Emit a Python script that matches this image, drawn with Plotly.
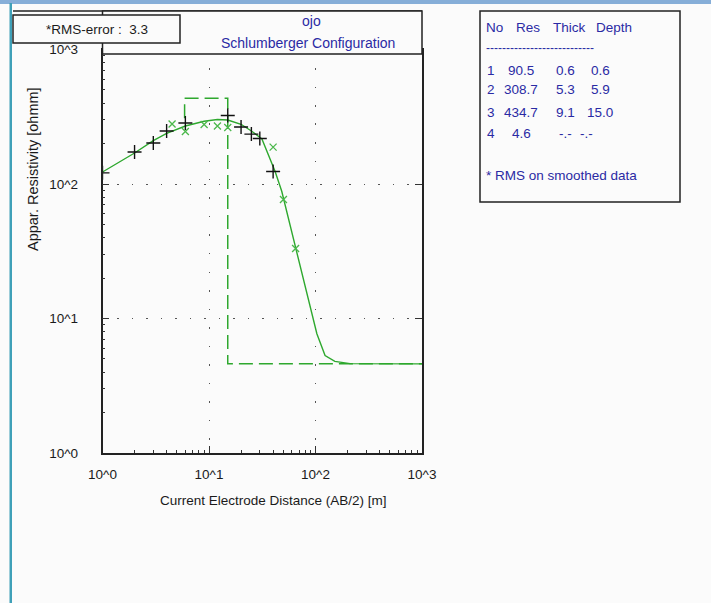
import plotly.graph_objects as go

W, H = 711, 603

# ---------------- data ----------------
# measured field data (black +)
field_ab2 = [1, 2, 3, 4, 6, 15, 20, 25, 30, 40]
field_rho = [121, 173, 202, 248, 284, 323, 265, 235, 218, 124]

# smoothed data (green x)
smooth_ab2 = [4.5, 6, 9, 12, 15, 40, 50, 65]
smooth_rho = [279, 246, 277, 270, 263, 188, 76.7, 33.1]

# model response curve (green line)
model_ab2 = [1, 2, 3, 4, 6, 9, 12, 15, 20, 25, 31.4, 38.8, 41.7, 48.2,
             65.6, 76.4, 94.8, 103, 123, 152, 211, 1000]
model_rho = [122.8, 170, 210, 238, 270, 293, 302, 299, 278, 248, 216, 143.6,
             124.5, 88.3, 33.1, 20.2, 10.2, 7.7, 5.3, 4.8, 4.62, 4.6]

# layer model table
layer_no = ["1", "2", "3", "4"]
layer_res = [90.5, 308.7, 434.7, 4.6]
layer_thick = ["0.6", "5.3", "9.1", "-.-"]
layer_depth = ["0.6", "5.9", "15.0", "-.-"]
depths = [0.6, 5.9, 15.0]

rms_error = 3.3
x_ticks = [1, 10, 100, 1000]
x_ticktext = ["10^0", "10^1", "10^2", "10^3"]
y_ticks = [1, 10, 100, 1000]
y_ticktext = ["10^0", "10^1", "10^2", "10^3"]

# ---------------- helpers ----------------
def fx(p):
    return p / W

def fy(p):
    return 1 - p / H

GREEN = "#2ea82e"
GREEN_LIGHT = "#4cb84c"
BLUE_TXT = "#2a2aa4"
TXT = "#1a1a1a"
FONT = "Liberation Sans"
BG = "#fbfbfb"

minor_vals = [m * 10 ** e for e in range(0, 3) for m in range(2, 10)]

# step line of layer model (visible part, from boundary 2 onward)
step_x = [depths[1], depths[1], depths[2], depths[2], 1000]
step_y = [layer_res[1], layer_res[2], layer_res[2], layer_res[3], layer_res[3]]

fig = go.Figure()

fig.add_trace(go.Scatter(x=step_x, y=step_y, mode="lines",
                         line=dict(color=GREEN, width=1.5, dash="14px,6px"),
                         hoverinfo="skip", showlegend=False))
fig.add_trace(go.Scatter(x=model_ab2, y=model_rho, mode="lines",
                         line=dict(color=GREEN, width=1.4),
                         showlegend=False))
fig.add_trace(go.Scatter(x=smooth_ab2, y=smooth_rho, mode="markers",
                         marker=dict(symbol="x-thin", size=7,
                                     line=dict(color=GREEN_LIGHT, width=1.3)),
                         showlegend=False))
fig.add_trace(go.Scatter(x=field_ab2, y=field_rho, mode="markers",
                         marker=dict(symbol="cross-thin", size=10,
                                     line=dict(color="#111111", width=1.4)),
                         showlegend=False))
# dummy trace for right-side tick axis
fig.add_trace(go.Scatter(x=[None], y=[None], yaxis="y2", showlegend=False,
                         hoverinfo="skip"))

axis_font = dict(family=FONT, size=13.5, color=TXT)

fig.update_layout(
    width=W, height=H, autosize=False,
    margin=dict(l=0, r=0, t=0, b=0, pad=0),
    paper_bgcolor=BG, plot_bgcolor=BG,
    font=dict(family=FONT, size=13, color=TXT),
    showlegend=False,
    xaxis=dict(type="log", range=[0, 3], automargin=False,
               domain=[fx(102.5), fx(422)],
               showline=True, linecolor="#222222", linewidth=1.5, mirror=True,
               ticks="inside", ticklen=7, tickcolor="#333333", tickwidth=1,
               tickvals=x_ticks, ticktext=x_ticktext, tickfont=axis_font,
               ticklabelstandoff=8,
               showgrid=True, gridcolor="#555555", gridwidth=1.3,
               griddash="1.5px,17px", zeroline=False,
               minor=dict(tickvals=minor_vals, ticks="inside", ticklen=3,
                          tickcolor="#333333", showgrid=False)),
    yaxis=dict(type="log", range=[0, 3], automargin=False,
               domain=[fy(453), fy(49.5)],
               showline=True, linecolor="#222222", linewidth=1.5, mirror=True,
               ticks="inside", ticklen=7, tickcolor="#333333", tickwidth=1,
               tickvals=y_ticks, ticktext=y_ticktext, tickfont=axis_font,
               ticklabelstandoff=20,
               showgrid=True, gridcolor="#555555", gridwidth=1.3,
               griddash="1.5px,13px", zeroline=False,
               minor=dict(tickvals=minor_vals, ticks="inside", ticklen=3,
                          tickcolor="#333333", showgrid=False)),
    yaxis2=dict(type="log", range=[0, 3], overlaying="y", side="right",
                automargin=False,
                ticks="inside", ticklen=7, tickcolor="#333333",
                tickvals=[10, 100], showticklabels=False, showgrid=False,
                showline=False, zeroline=False),
)

shapes = []
# window chrome: top blue band and left teal edge
shapes.append(dict(type="rect", xref="paper", yref="paper", x0=0, x1=1,
                   y0=fy(4), y1=fy(0), fillcolor="#86aed8", line=dict(width=0),
                   layer="above"))
shapes.append(dict(type="rect", xref="paper", yref="paper", x0=fx(9.5), x1=fx(12),
                   y0=0, y1=fy(3), fillcolor="#3fa0b8", line=dict(width=0),
                   layer="above"))
# top frame line
shapes.append(dict(type="line", xref="paper", yref="paper", x0=fx(13), x1=fx(422),
                   y0=fy(11), y1=fy(11), line=dict(color="#222222", width=1.5),
                   layer="above"))
# title box
shapes.append(dict(type="rect", xref="paper", yref="paper", x0=fx(102.5), x1=fx(422),
                   y0=fy(54), y1=fy(11), fillcolor=BG,
                   line=dict(color="#222222", width=1.5), layer="above"))
# RMS box
shapes.append(dict(type="rect", xref="paper", yref="paper", x0=fx(13), x1=fx(180),
                   y0=fy(43), y1=fy(15), fillcolor=BG,
                   line=dict(color="#222222", width=1.5), layer="above"))
# table box
shapes.append(dict(type="rect", xref="paper", yref="paper", x0=fx(480), x1=fx(680),
                   y0=fy(202), y1=fy(11), fillcolor=BG,
                   line=dict(color="#222222", width=1.5), layer="above"))
fig.update_layout(shapes=shapes)

ann = []

def text(x, y, s, color=TXT, size=13, xanchor="center", angle=0):
    ann.append(dict(x=fx(x), y=fy(y), xref="paper", yref="paper", text=s,
                    showarrow=False, xanchor=xanchor, yanchor="middle",
                    textangle=angle,
                    font=dict(family=FONT, size=size, color=color)))

text(97, 30, f"*RMS-error :  {rms_error}", size=13.5)
text(311, 21, "ojo", color=BLUE_TXT, size=14)
text(308, 43, "Schlumberger Configuration", color=BLUE_TXT, size=14)
text(33, 169, "Appar. Resistivity [ohmm]", size=14.5, angle=-90)
text(273, 500, "Current Electrode Distance (AB/2) [m]", size=13.5)

# table
text(484, 27, "No", color=BLUE_TXT, size=13.5, xanchor="left")
text(528, 27, "Res", color=BLUE_TXT, size=13.5)
text(569, 27, "Thick", color=BLUE_TXT, size=13.5)
text(614, 27, "Depth", color=BLUE_TXT, size=13.5)
text(484, 48, "-" * 27, color=BLUE_TXT, size=12, xanchor="left")
row_y = [70, 90, 112, 133]
for i in range(len(layer_no)):
    text(491, row_y[i], layer_no[i], color=BLUE_TXT, size=13.5)
    text(521, row_y[i], f"{layer_res[i]:.1f}", color=BLUE_TXT, size=13.5)
    text(565, row_y[i], layer_thick[i], color=BLUE_TXT, size=13.5)
    text(600 if layer_depth[i] != "-.-" else 586, row_y[i], layer_depth[i],
         color=BLUE_TXT, size=13.5)
text(484, 175, "* RMS on smoothed data", color=BLUE_TXT, size=13.5, xanchor="left")

fig.update_layout(annotations=ann)

fig.write_html("out.html")
